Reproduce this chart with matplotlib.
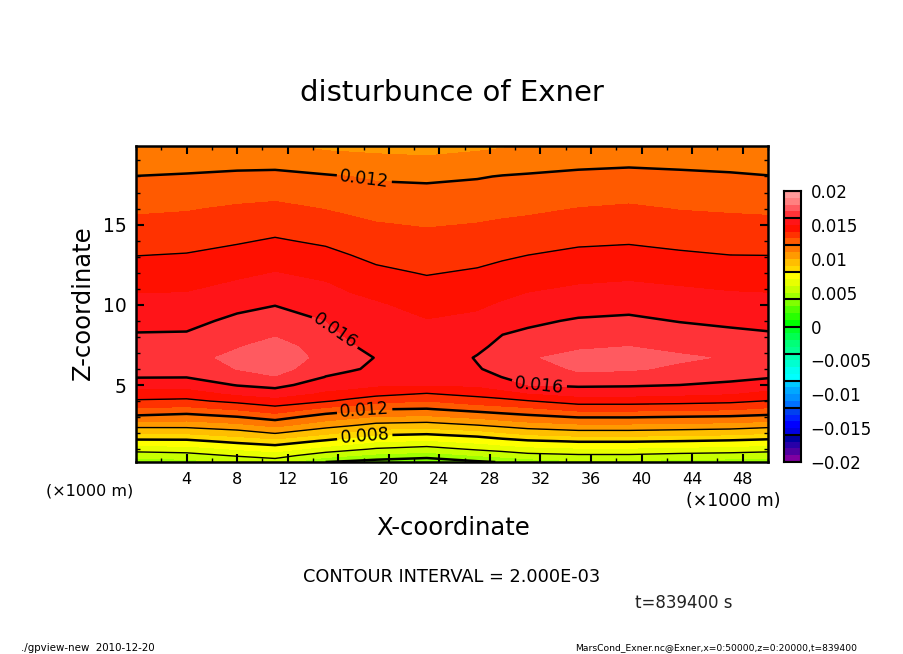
import numpy as np
import matplotlib
matplotlib.use('Agg')
import matplotlib.pyplot as plt
from matplotlib.colors import ListedColormap, BoundaryNorm
from matplotlib.ticker import MultipleLocator

# grid (x in 1000 m, z in 1000 m, values in 1e-3)
x_km = [0, 4, 8, 11, 15, 17, 19, 23, 27, 29, 31, 35, 39, 43, 47, 50]
z_km = [0.2, 0.6, 1, 1.5, 2, 2.5, 3, 3.5, 4, 4.5, 5, 5.5, 6, 6.7, 7.4, 8, 9, 10, 12, 14, 16, 18, 19.9]

col_00 = [4.36, 5.40, 6.44, 7.74, 9.07, 10.41, 11.78, 12.84, 13.88, 14.60, 15.35, 16.06, 16.28, 16.60, 16.34, 16.11, 15.71, 15.30, 14.43, 13.61, 12.85, 12.02, 10.95]
col_04 = [4.58, 5.58, 6.55, 7.76, 9.11, 10.41, 11.56, 12.67, 13.78, 14.57, 15.32, 16.04, 16.20, 16.55, 16.30, 16.14, 15.72, 15.31, 14.49, 13.69, 12.93, 12.11, 10.98]
col_08 = [5.14, 6.10, 7.06, 8.28, 9.53, 10.75, 11.95, 13.12, 14.26, 15.19, 16.06, 16.58, 17.03, 17.35, 16.90, 16.65, 16.22, 15.74, 14.76, 13.90, 13.12, 12.19, 11.20]
col_11 = [5.47, 6.43, 7.40, 8.60, 10.05, 11.28, 12.43, 13.66, 14.58, 15.50, 16.33, 16.93, 17.45, 17.80, 17.50, 16.99, 16.48, 15.97, 15.01, 14.09, 13.22, 12.23, 11.17]
col_15 = [4.00, 5.40, 6.58, 7.85, 9.21, 10.45, 11.51, 12.73, 14.09, 14.84, 15.43, 15.98, 16.25, 16.60, 16.41, 16.25, 15.98, 15.58, 14.75, 13.84, 12.97, 12.09, 10.80]
col_17 = [3.80, 5.03, 6.24, 7.46, 8.77, 10.11, 11.22, 12.41, 13.74, 14.67, 15.29, 15.76, 16.09, 16.27, 16.06, 15.88, 15.58, 15.27, 14.48, 13.61, 12.82, 12.00, 10.75]
col_19 = [3.60, 4.71, 5.88, 7.10, 8.33, 9.72, 10.91, 12.05, 13.36, 14.40, 15.09, 15.38, 15.85, 15.97, 15.77, 15.61, 15.35, 15.09, 14.19, 13.43, 12.69, 11.88, 10.70]
col_23 = [3.30, 4.43, 5.57, 6.89, 8.17, 9.58, 10.80, 11.95, 13.00, 14.04, 15.00, 15.18, 15.37, 15.50, 15.36, 15.23, 15.02, 14.66, 13.94, 13.27, 12.59, 11.84, 10.60]
col_27 = [3.85, 5.01, 6.14, 7.29, 8.55, 10.00, 11.20, 12.40, 13.48, 14.43, 15.12, 15.44, 15.95, 16.05, 15.85, 15.50, 15.19, 14.85, 14.11, 13.39, 12.68, 11.94, 10.80]
col_29 = [4.06, 5.30, 6.40, 7.60, 8.93, 10.30, 11.47, 12.60, 13.68, 14.70, 15.44, 16.03, 16.21, 16.34, 16.19, 16.06, 15.61, 15.08, 14.29, 13.51, 12.76, 12.04, 10.92]
col_31 = [4.35, 5.65, 6.65, 7.86, 9.28, 10.57, 11.70, 12.79, 13.95, 15.00, 16.00, 16.21, 16.42, 16.90, 16.45, 16.23, 15.82, 15.31, 14.45, 13.63, 12.82, 12.10, 11.03]
col_35 = [4.80, 5.83, 6.84, 8.10, 9.57, 10.84, 12.05, 13.32, 14.45, 15.38, 16.18, 16.72, 17.15, 17.30, 16.86, 16.57, 16.10, 15.58, 14.64, 13.84, 13.02, 12.22, 11.23]
col_39 = [4.80, 5.83, 6.84, 8.10, 9.57, 10.84, 12.05, 13.32, 14.45, 15.35, 16.13, 16.60, 17.11, 17.40, 17.00, 16.70, 16.19, 15.69, 14.74, 13.90, 13.12, 12.28, 11.33]
col_43 = [4.60, 5.65, 6.70, 8.00, 9.45, 10.75, 11.95, 13.25, 14.36, 15.23, 16.00, 16.42, 16.84, 17.13, 16.77, 16.46, 15.96, 15.51, 14.61, 13.74, 12.96, 12.22, 11.23]
col_47 = [4.50, 5.55, 6.58, 7.85, 9.32, 10.65, 11.86, 13.12, 14.24, 15.08, 15.85, 16.20, 16.45, 16.92, 16.44, 16.24, 15.83, 15.37, 14.47, 13.62, 12.89, 12.15, 11.06]
col_50 = [4.36, 5.42, 6.43, 7.68, 9.06, 10.43, 11.70, 12.82, 13.95, 14.71, 15.50, 16.09, 16.30, 16.60, 16.35, 16.14, 15.74, 15.30, 14.47, 13.60, 12.84, 12.04, 10.97]

band_colors = ['#8000A0', '#5000A0', '#2800A8', '#0000A0',
               '#0000E0', '#0000FF', '#0020FF', '#0040F0',
               '#0070FF', '#0090FF', '#00A8FF', '#00C8FF',
               '#00FFFF', '#00FFF0', '#00FFD0', '#00FFB0',
               '#00FF90', '#00FF78', '#00FF50', '#00FF28',
               '#00FF00', '#28FF00', '#50FF00', '#80FF00',
               '#A0FF00', '#C8FF00', '#E8FF00', '#FFFF00',
               '#FFD800', '#FFBE00', '#FF9A00', '#FF7800',
               '#FF5A00', '#FF3200', '#FF1000', '#FF1418',
               '#FF3338', '#FF5A60', '#FF8080', '#FF9A9A']
cbar_ticks = [-0.02, -0.015, -0.01, -0.005, 0, 0.005, 0.01, 0.015, 0.02]
cbar_labels = ['\u22120.02', '\u22120.015', '\u22120.01', '\u22120.005', '0', '0.005', '0.01', '0.015', '0.02']

field = np.column_stack([col_00, col_04, col_08, col_11, col_15, col_17, col_19, col_23,
                         col_27, col_29, col_31, col_35, col_39, col_43, col_47, col_50]) * 1e-3
band_edges = np.linspace(-0.02, 0.02, 41)
cmap = ListedColormap(band_colors)
norm = BoundaryNorm(band_edges, cmap.N)

W, H = 904, 654
fig = plt.figure(figsize=(W / 100, H / 100), dpi=100)
ax = fig.add_axes([136 / W, 1 - 462 / H, 632 / W, 316 / H])

ax.contourf(x_km, z_km, field, levels=band_edges, colors=band_colors, antialiased=False)

# thick contours every 0.004, thin ones in between
ax.contour(x_km, z_km, field, levels=[0.006, 0.010, 0.014], colors='k', linewidths=1.0)
ax.contour(x_km, z_km, field, levels=[0.004], colors='k', linewidths=1.8)
thick = ax.contour(x_km, z_km, field, levels=[0.008, 0.012, 0.016], colors='k', linewidths=1.8)
ax.clabel(thick, fmt='%.3f', fontsize=12.5, inline=True, inline_spacing=3,
          manual=[(18.1, 18.0), (15.7, 8.3), (31.9, 5.1), (18.1, 3.3), (18.1, 1.75)])

ax.set_xlim(0, 50)
ax.set_ylim(0.2, 19.9)
ax.xaxis.set_major_locator(MultipleLocator(4))
ax.xaxis.set_minor_locator(MultipleLocator(2))
ax.yaxis.set_major_locator(MultipleLocator(5))
ax.yaxis.set_minor_locator(MultipleLocator(1))
ax.tick_params(which='major', direction='in', length=6, width=1.5, top=True, right=True, labelsize=11.5, pad=7)
ax.tick_params(which='minor', direction='in', length=3, width=1, top=True, right=True)
for s in ax.spines.values():
    s.set_linewidth(1.8)

ax.set_xticks(np.arange(4, 49, 4))
ax.set_yticks([5, 10, 15])
ax.set_yticklabels(['5', '10', '15'], fontsize=13.5)

# colour bar
cax = fig.add_axes([784 / W, 1 - 462 / H, 17 / W, 271 / H])
mids = (band_edges[:-1] + band_edges[1:]) / 2
cax.pcolormesh([0, 1], band_edges, mids.reshape(-1, 1), cmap=cmap, norm=norm)
cax.hlines(band_edges[::4], 0, 1, colors='k', linewidth=1.5)
cax.set_xlim(0, 1)
cax.set_ylim(-0.02, 0.02)
cax.set_xticks([])
cax.yaxis.tick_right()
cax.set_yticks(cbar_ticks)
cax.set_yticklabels(cbar_labels, fontsize=12)
cax.tick_params(length=0, pad=7)
for s in cax.spines.values():
    s.set_linewidth(1.5)

def put(px, py, s, **kw):
    fig.text(px / W, 1 - py / H, s, va='center', **kw)

put(452, 93, 'disturbunce of Exner', ha='center', fontsize=21)
put(453, 528, 'X-coordinate', ha='center', fontsize=17.5)
put(83, 303, 'Z-coordinate', ha='center', rotation=90, fontsize=17.5)
put(90, 491, '(\u00d71000 m)', ha='center', fontsize=11.5)
put(733, 501, '(\u00d71000 m)', ha='center', fontsize=12.5)
put(452, 577, 'CONTOUR INTERVAL = 2.000E-03', ha='center', fontsize=12.8)
put(684, 603, 't=839400 s', ha='center', fontsize=12, color='#222222')
put(21, 648, './gpview-new  2010-12-20', ha='left', fontsize=7.4)
put(857, 648, 'MarsCond_Exner.nc@Exner,x=0:50000,z=0:20000,t=839400', ha='right', fontsize=6.6)

fig.savefig('out.png', dpi=100)
